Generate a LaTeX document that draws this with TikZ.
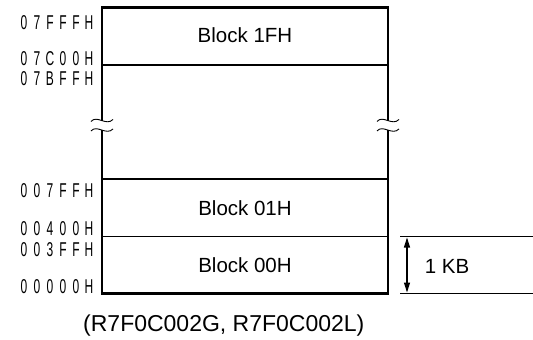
\documentclass[tikz,border=0pt]{standalone}
\usepackage{fontspec}
\setmainfont{Liberation Sans}
\usetikzlibrary{arrows.meta}
\newcommand\addrtxt[1]{\fontsize{20}{20}\selectfont\spacedi#1\relax}
\def\spacedi#1{\ifx#1\relax\else\makebox[13pt][c]{\scalebox{0.6}[1]{#1}}\expandafter\spacedi\fi}
\begin{document}
\begin{tikzpicture}[x=1pt,y=-1pt,
  addr/.style={anchor=east,inner sep=0pt},
  blk/.style={anchor=base,inner sep=0pt,font=\fontsize{20.5}{20.5}\selectfont},
  outer/.style={line width=2.2pt},
  inner/.style={line width=1.2pt},
  wave/.style={line width=0.9pt}]
\useasboundingbox (0,0) rectangle (533,340);
% outer frame (broken)
\draw[outer] (102,121) -- (102,7.5) -- (388,7.5) -- (388,121);
\draw[outer] (102,130) -- (102,293.5) -- (388,293.5) -- (388,130);
% inner block boundaries
\draw[inner] (102,65) -- (388,65);
\draw[inner] (102,179) -- (388,179);
\draw[inner] (102,236.5) -- (388,236.5);
% break marks
\foreach \x in {102,388}{
  \draw[wave] (\x-11,121.5) .. controls (\x-5,114.5) and (\x+4,126.5) .. (\x+11,119.5);
  \draw[wave] (\x-11,131) .. controls (\x-5,124) and (\x+4,136) .. (\x+11,129);
}
% block labels
\node[blk] (b1f) at (245,42) {Block 1FH};
\node[blk] (b01) at (245,215) {Block 01H};
\node[blk] (b00) at (245,272) {Block 00H};
% addresses
\node[addr] (a1) at (95.7,22.5) {\addrtxt{07FFFH}};
\node[addr] (a2) at (95.7,59) {\addrtxt{07C00H}};
\node[addr] (a3) at (95.7,78.5) {\addrtxt{07BFFH}};
\node[addr] (a4) at (95.7,191) {\addrtxt{007FFH}};
\node[addr] (a5) at (95.7,229) {\addrtxt{00400H}};
\node[addr] (a6) at (95.7,250) {\addrtxt{003FFH}};
\node[addr] (a7) at (95.7,286.5) {\addrtxt{00000H}};
% 1 KB dimension
\coordinate (ktop) at (407,237.5);
\coordinate (kbot) at (407,292.5);
\draw[inner] (400,236.5) -- (533,236.5);
\draw[inner] (400,293.5) -- (533,293.5);
\draw[inner,{Triangle[length=10pt,width=6pt]}-{Triangle[length=10pt,width=6pt]}] (ktop) -- (kbot);
\node[blk,anchor=center] (kb) at (447,266) {1 KB};
% caption
\node[blk,anchor=base west,font=\fontsize{23}{23}\selectfont] (cap) at (83,331) {(R7F0C002G, R7F0C002L)};
\end{tikzpicture}
\end{document}
